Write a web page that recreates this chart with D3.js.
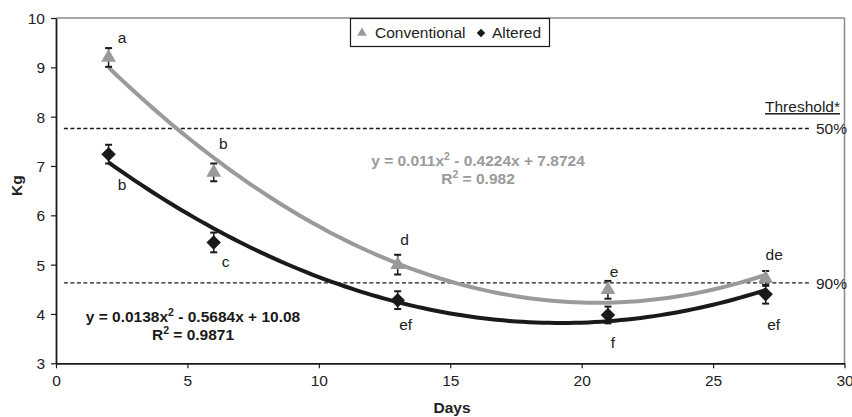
<!DOCTYPE html>
<html>
<head>
<meta charset="utf-8">
<script src="https://cdn.jsdelivr.net/npm/d3@7"></script>
<style>
  body { margin: 0; background: #fff; }
  svg { font-family: "Liberation Sans", Arial, sans-serif; }
</style>
</head>
<body>
<div id="chart"></div>
<script>
// Datos
const days = [2, 6, 13, 21, 27];
const conventional = [9.2, 6.87, 5.0, 4.49, 4.72];
const conventionalErr = [0.19, 0.18, 0.2, 0.18, 0.15];
const altered = [7.24, 5.45, 4.28, 3.98, 4.4];
const alteredErr = [0.19, 0.2, 0.18, 0.17, 0.19];
const conventionalLetters = ["a", "b", "d", "e", "de"];
const alteredLetters = ["b", "c", "ef", "f", "ef"];

// Coeficientes de las líneas de tendencia (a, b, c) tal como aparecen
const conventionalFit = [0.0138, -0.5684, 10.08];
const alteredFit = [0.011, -0.4224, 7.8724];

const thresholds = [7.76, 4.63];
const thresholdLabels = ["50%", "90%"];

const xTicks = [0, 5, 10, 15, 20, 25, 30];
const yTicks = [3, 4, 5, 6, 7, 8, 9, 10];

const width = 852, height = 417;
const margin = { top: 18, right: 7.5, bottom: 53.7, left: 56 };

const grey = "#9a9a9a";
const black = "#1a1a1a";
const fs = "15.5px";

const svg = d3.select("#chart").append("svg")
    .attr("width", width)
    .attr("height", height);

const x = d3.scaleLinear().domain([0, 30]).range([margin.left, width - margin.right]);
const y = d3.scaleLinear().domain([3, 10]).range([height - margin.bottom, margin.top]);

// Borde del área de trazado (gris arriba y a la derecha)
svg.append("line")
    .attr("x1", x(0)).attr("x2", x(30))
    .attr("y1", y(10)).attr("y2", y(10))
    .attr("stroke", "#8a8a8a").attr("stroke-width", 1.5);
svg.append("line")
    .attr("x1", x(30)).attr("x2", x(30))
    .attr("y1", y(10)).attr("y2", y(3))
    .attr("stroke", "#8a8a8a").attr("stroke-width", 1.5);

// Ejes
const xAxis = svg.append("g")
    .attr("transform", `translate(0,${y(3)})`)
    .call(d3.axisBottom(x).tickValues(xTicks).tickFormat(d3.format("d"))
        .tickSize(5).tickSizeOuter(0).tickPadding(7));
const yAxis = svg.append("g")
    .attr("transform", `translate(${x(0)},0)`)
    .call(d3.axisLeft(y).tickValues(yTicks).tickFormat(d3.format("d"))
        .tickSize(5).tickSizeOuter(0).tickPadding(6));

[xAxis, yAxis].forEach(g => {
    g.select(".domain").attr("stroke", black).attr("stroke-width", 1.8);
    g.selectAll(".tick line").attr("stroke", black).attr("stroke-width", 1.2);
    g.selectAll(".tick text")
        .attr("fill", "#222")
        .style("font-size", fs)
        .style("font-family", "'Liberation Sans', Arial, sans-serif");
});
yAxis.selectAll(".tick text").attr("dy", "0.36em");

// Títulos de ejes
svg.append("text")
    .attr("x", 452).attr("y", 413)
    .attr("text-anchor", "middle")
    .style("font-size", fs).style("font-weight", "bold")
    .attr("fill", "#222")
    .text("Days");
svg.append("text")
    .attr("transform", `translate(22,${y(6.6)}) rotate(-90)`)
    .attr("text-anchor", "middle")
    .style("font-size", fs).style("font-weight", "bold")
    .attr("fill", "#222")
    .text("Kg");

// Líneas de umbral
thresholds.forEach((t, i) => {
    svg.append("line")
        .attr("x1", x(0.3)).attr("x2", x(28.7))
        .attr("y1", y(t)).attr("y2", y(t))
        .attr("stroke", black).attr("stroke-width", 1.3)
        .attr("stroke-dasharray", "4,2.5");
    svg.append("text")
        .attr("x", 816).attr("y", y(t) + 6)
        .style("font-size", fs)
        .attr("fill", "#222")
        .text(thresholdLabels[i]);
});
svg.append("text")
    .attr("x", 840).attr("y", 112)
    .attr("text-anchor", "end")
    .style("font-size", fs)
    .style("text-decoration", "underline")
    .attr("fill", "#222")
    .text("Threshold*");

// Líneas de tendencia
const quad = c => t => c[0] * t * t + c[1] * t + c[2];
const curve = (coef) => {
    const f = quad(coef);
    const pts = d3.range(days[0], days[days.length - 1] + 0.01, 0.25).map(t => [t, f(t)]);
    return d3.line().x(d => x(d[0])).y(d => y(d[1]))(pts);
};
svg.append("path")
    .attr("d", curve(conventionalFit))
    .attr("fill", "none").attr("stroke", grey).attr("stroke-width", 4);
svg.append("path")
    .attr("d", curve(alteredFit))
    .attr("fill", "none").attr("stroke", black).attr("stroke-width", 4);

// Barras de error y marcadores
function drawSeries(values, errs, color, symbolType, size, rot) {
    const g = svg.append("g");
    values.forEach((v, i) => {
        const cx = x(days[i]);
        g.append("line")
            .attr("x1", cx).attr("x2", cx)
            .attr("y1", y(v + errs[i])).attr("y2", y(v - errs[i]))
            .attr("stroke", black).attr("stroke-width", 1.5);
        [v + errs[i], v - errs[i]].forEach(e => {
            g.append("line")
                .attr("x1", cx - 3.5).attr("x2", cx + 3.5)
                .attr("y1", y(e)).attr("y2", y(e))
                .attr("stroke", black).attr("stroke-width", 2);
        });
        g.append("path")
            .attr("transform", `translate(${cx},${y(v)}) rotate(${rot})`)
            .attr("d", d3.symbol().type(symbolType).size(size)())
            .attr("fill", color);
    });
}
drawSeries(conventional, conventionalErr, grey, d3.symbolTriangle, 95, 0);
drawSeries(altered, alteredErr, black, d3.symbolSquare, 105, 45);

// Letras de significancia
const convOffsets = [[13.5, -14.5], [9.5, -23.5], [7, -19.5], [6, -13], [8.5, -18]];
const altOffsets = [[13.5, 36], [12, 24.5], [8, 30], [5, 33], [8, 36]];
conventional.forEach((v, i) => {
    svg.append("text")
        .attr("x", x(days[i]) + convOffsets[i][0]).attr("y", y(v) + convOffsets[i][1])
        .attr("text-anchor", "middle")
        .style("font-size", fs).attr("fill", "#222")
        .text(conventionalLetters[i]);
});
altered.forEach((v, i) => {
    svg.append("text")
        .attr("x", x(days[i]) + altOffsets[i][0]).attr("y", y(v) + altOffsets[i][1])
        .attr("text-anchor", "middle")
        .style("font-size", fs).attr("fill", "#222")
        .text(alteredLetters[i]);
});

// Ecuaciones
function equation(cx, cy, color, coef, r2) {
    const t = svg.append("text")
        .attr("x", cx).attr("y", cy)
        .attr("text-anchor", "middle")
        .style("font-size", fs).style("font-weight", "bold")
        .attr("fill", color);
    t.append("tspan").text(`y = ${coef[0]}x`);
    t.append("tspan").attr("dy", -6).style("font-size", "10.5px").text("2");
    t.append("tspan").attr("dy", 6).text(` - ${Math.abs(coef[1])}x + ${coef[2]}`);
    const r = svg.append("text")
        .attr("x", cx).attr("y", cy + 17.5)
        .attr("text-anchor", "middle")
        .style("font-size", fs).style("font-weight", "bold")
        .attr("fill", color);
    r.append("tspan").text("R");
    r.append("tspan").attr("dy", -6).style("font-size", "10.5px").text("2");
    r.append("tspan").attr("dy", 6).text(` = ${r2}`);
}
equation(478, 166, grey, alteredFit, 0.982);
equation(193, 322, black, conventionalFit, 0.9871);

// Leyenda
const legend = svg.append("g");
legend.append("rect")
    .attr("x", 350.5).attr("y", 18.5).attr("width", 199).attr("height", 28)
    .attr("fill", "#fff").attr("stroke", black).attr("stroke-width", 1.2);
legend.append("path")
    .attr("transform", "translate(362,33)")
    .attr("d", d3.symbol().type(d3.symbolTriangle).size(40)())
    .attr("fill", grey);
legend.append("text")
    .attr("x", 375).attr("y", 37.5)
    .style("font-size", fs).attr("fill", "#222")
    .text("Conventional");
legend.append("path")
    .attr("transform", "translate(481,33) rotate(45)")
    .attr("d", d3.symbol().type(d3.symbolSquare).size(36)())
    .attr("fill", black);
legend.append("text")
    .attr("x", 492).attr("y", 37.5)
    .style("font-size", fs).attr("fill", "#222")
    .text("Altered");
</script>
</body>
</html>
